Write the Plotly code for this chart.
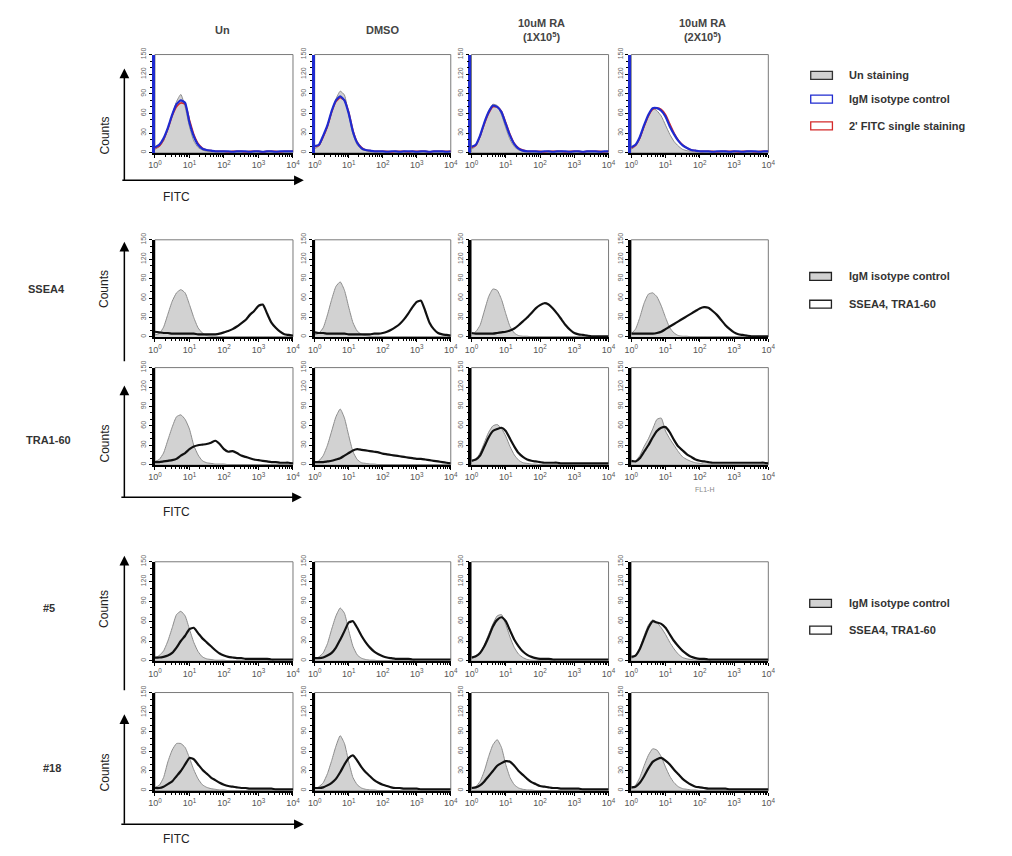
import math
import plotly.graph_objects as go

# ---------------- data ----------------
LOGX = [0.0, 0.125, 0.25, 0.375, 0.5, 0.625, 0.75, 0.875, 1.0, 1.125, 1.25, 1.375, 1.5,
        1.625, 1.75, 1.875, 2.0, 2.125, 2.25, 2.375, 2.5, 2.625, 2.75, 2.875, 3.0, 3.125,
        3.25, 3.375, 3.5, 3.625, 3.75, 3.875, 4.0]

COL_HEADERS = ["Un", "DMSO", "10uM RA<br>(1X10<sup>5</sup>)", "10uM RA<br>(2X10<sup>5</sup>)"]
ROW_LABELS = ["", "SSEA4", "TRA1-60", "#5", "#18"]
YTICKS = [0, 30, 60, 90, 120, 150]
XTICKS = [0, 1, 2, 3, 4]
XTICK_TEXT = ["10<sup>0</sup>", "10<sup>1</sup>", "10<sup>2</sup>", "10<sup>3</sup>", "10<sup>4</sup>"]
LEGEND1 = ["Un staining", "IgM isotype control", "2' FITC single staining"]
LEGEND2 = ["IgM isotype control", "SSEA4, TRA1-60"]

# Row 1: control staining
R1_UNSTAIN = [
    [5, 9, 18, 36, 58, 78, 89, 70, 40, 18, 8, 4, 2, 1, 1, 1, 1, 1, 1, 1, 1, 1, 1, 1, 1, 1, 1, 1, 1, 1, 1, 1, 1],
    [6, 10, 24, 40, 62, 82, 94, 88, 58, 28, 12, 5, 3, 1, 1, 1, 1, 1, 1, 1, 1, 1, 1, 1, 1, 1, 1, 1, 1, 1, 1, 1, 1],
    [5, 10, 24, 45, 64, 74, 72, 58, 38, 20, 9, 4, 2, 1, 1, 1, 1, 1, 1, 1, 1, 1, 1, 1, 1, 1, 1, 1, 1, 1, 1, 1, 1],
    [5, 10, 22, 40, 58, 68, 64, 56, 42, 28, 17, 10, 5, 3, 2, 1, 1, 1, 1, 1, 1, 1, 1, 1, 1, 1, 1, 1, 1, 1, 1, 1, 1],
]
R1_IGM = [
    [8, 12, 22, 38, 58, 74, 80, 76, 46, 25, 12, 6, 4, 3, 2, 2, 2, 2, 1, 2, 2, 2, 1, 2, 2, 1, 2, 2, 1, 2, 2, 2, 2],
    [10, 12, 26, 42, 64, 80, 86, 80, 60, 32, 15, 7, 4, 3, 2, 2, 2, 1, 2, 2, 1, 2, 2, 2, 1, 2, 2, 1, 2, 2, 2, 1, 2],
    [9, 12, 26, 46, 62, 72, 70, 62, 44, 26, 13, 6, 3, 2, 2, 2, 1, 2, 2, 1, 2, 2, 2, 1, 2, 2, 1, 2, 2, 2, 1, 2, 2],
    [8, 12, 24, 42, 58, 68, 68, 64, 55, 40, 28, 18, 11, 7, 4, 3, 2, 2, 2, 1, 2, 2, 2, 1, 2, 2, 1, 2, 2, 2, 1, 2, 2],
]
R1_FITC = [
    [7, 10, 20, 36, 56, 70, 76, 74, 50, 28, 14, 7, 4, 3, 2, 2, 2, 1, 2, 2, 2, 1, 2, 2, 2, 1, 2, 2, 2, 1, 2, 2, 2],
    [9, 11, 24, 40, 62, 78, 84, 80, 62, 34, 16, 8, 4, 3, 2, 2, 2, 2, 1, 2, 2, 2, 1, 2, 2, 2, 2, 1, 2, 2, 2, 2, 2],
    [8, 11, 25, 44, 60, 70, 70, 63, 46, 28, 14, 7, 4, 2, 2, 2, 2, 1, 2, 2, 2, 2, 1, 2, 2, 2, 1, 2, 2, 2, 2, 1, 2],
    [7, 11, 22, 40, 56, 66, 68, 66, 58, 44, 30, 19, 12, 7, 4, 3, 2, 2, 2, 2, 1, 2, 2, 2, 2, 1, 2, 2, 2, 1, 2, 2, 2],
]

# Rows 2-5: IgM isotype control (grey filled) and marker staining (black)
R2_ISO = [
    [3, 5, 15, 35, 55, 68, 73, 68, 50, 30, 14, 6, 2, 1, 1, 0, 0, 0, 0, 0, 0, 0, 0, 0, 0, 0, 0, 0, 0, 0, 0, 0, 0],
    [3, 6, 14, 34, 58, 78, 85, 72, 46, 22, 9, 4, 2, 1, 1, 1, 0, 0, 0, 0, 0, 0, 0, 0, 0, 0, 0, 0, 0, 0, 0, 0, 0],
    [4, 8, 18, 40, 62, 74, 72, 58, 36, 16, 6, 2, 1, 1, 0, 0, 0, 0, 0, 0, 0, 0, 0, 0, 0, 0, 0, 0, 0, 0, 0, 0, 0],
    [5, 12, 30, 52, 66, 68, 62, 48, 30, 14, 6, 2, 1, 1, 0, 0, 0, 0, 0, 0, 0, 0, 0, 0, 0, 0, 0, 0, 0, 0, 0, 0, 0],
]
R2_STAIN = [
    [8, 7, 6, 6, 5, 5, 5, 5, 5, 5, 4, 4, 4, 4, 4, 5, 7, 9, 12, 16, 21, 26, 34, 40, 48, 50, 36, 22, 14, 8, 4, 3, 2],
    [7, 6, 6, 5, 5, 5, 5, 5, 4, 4, 4, 4, 4, 4, 5, 5, 6, 8, 11, 15, 20, 27, 36, 46, 54, 56, 40, 22, 12, 6, 4, 3, 2],
    [6, 5, 5, 5, 5, 5, 6, 7, 8, 10, 13, 18, 24, 30, 37, 44, 49, 52, 50, 44, 36, 27, 18, 11, 6, 4, 3, 2, 1, 1, 1, 1, 1],
    [5, 5, 5, 5, 5, 5, 6, 8, 12, 16, 20, 24, 28, 32, 36, 40, 44, 46, 45, 40, 34, 26, 18, 12, 7, 4, 3, 2, 1, 1, 1, 1, 1],
]
R3_ISO = [
    [5, 8, 18, 38, 58, 74, 77, 70, 55, 30, 15, 6, 3, 2, 1, 1, 1, 0, 0, 0, 0, 0, 0, 0, 0, 0, 0, 0, 0, 0, 0, 0, 0],
    [4, 6, 14, 30, 52, 74, 86, 72, 45, 20, 8, 3, 2, 1, 1, 0, 0, 0, 0, 0, 0, 0, 0, 0, 0, 0, 0, 0, 0, 0, 0, 0, 0],
    [4, 8, 18, 34, 50, 60, 62, 56, 44, 28, 15, 7, 3, 2, 1, 1, 0, 0, 0, 0, 0, 0, 0, 0, 0, 0, 0, 0, 0, 0, 0, 0, 0],
    [3, 6, 14, 28, 40, 55, 70, 72, 52, 40, 30, 20, 12, 8, 5, 3, 2, 1, 1, 0, 0, 0, 0, 0, 0, 0, 0, 0, 0, 0, 0, 0, 0],
]
R3_STAIN = [
    [4, 4, 5, 6, 7, 9, 14, 18, 24, 28, 30, 31, 32, 34, 37, 32, 24, 20, 21, 18, 14, 12, 10, 8, 7, 6, 5, 4, 4, 3, 3, 3, 2],
    [4, 4, 4, 5, 6, 8, 10, 14, 18, 22, 24, 23, 22, 21, 20, 19, 17, 16, 15, 14, 13, 12, 11, 10, 9, 9, 8, 7, 6, 5, 4, 3, 2],
    [6, 8, 14, 28, 42, 52, 55, 57, 52, 40, 28, 18, 12, 8, 6, 5, 4, 3, 3, 3, 3, 2, 2, 2, 2, 2, 2, 2, 2, 2, 2, 2, 2],
    [6, 5, 10, 20, 30, 42, 52, 57, 58, 50, 38, 28, 22, 16, 12, 8, 6, 5, 4, 3, 3, 3, 3, 3, 3, 3, 3, 3, 3, 3, 3, 3, 2],
]
R4_ISO = [
    [4, 8, 15, 30, 50, 70, 75, 68, 48, 28, 14, 6, 3, 2, 1, 1, 1, 0, 0, 0, 0, 0, 0, 0, 0, 0, 0, 0, 0, 0, 0, 0, 0],
    [3, 6, 12, 26, 48, 68, 80, 72, 46, 22, 9, 4, 2, 1, 1, 0, 0, 0, 0, 0, 0, 0, 0, 0, 0, 0, 0, 0, 0, 0, 0, 0, 0],
    [3, 6, 12, 24, 40, 56, 68, 70, 55, 36, 20, 10, 5, 2, 1, 1, 0, 0, 0, 0, 0, 0, 0, 0, 0, 0, 0, 0, 0, 0, 0, 0, 0],
    [3, 8, 20, 38, 54, 62, 58, 50, 40, 28, 18, 10, 5, 3, 2, 1, 1, 0, 0, 0, 0, 0, 0, 0, 0, 0, 0, 0, 0, 0, 0, 0, 0],
]
R4_STAIN = [
    [5, 5, 6, 8, 12, 20, 30, 38, 48, 50, 42, 34, 28, 22, 16, 11, 8, 6, 5, 4, 4, 3, 3, 3, 3, 3, 3, 2, 2, 2, 2, 2, 2],
    [4, 4, 5, 8, 12, 20, 32, 45, 58, 60, 50, 38, 28, 20, 14, 10, 7, 5, 4, 3, 3, 3, 3, 2, 2, 2, 2, 2, 2, 2, 2, 2, 2],
    [5, 7, 12, 22, 36, 52, 62, 66, 60, 46, 32, 22, 14, 9, 6, 4, 3, 3, 3, 2, 2, 2, 2, 2, 2, 2, 2, 2, 2, 2, 2, 2, 2],
    [6, 8, 18, 34, 50, 60, 58, 56, 50, 40, 30, 22, 15, 10, 6, 4, 3, 3, 2, 2, 2, 2, 2, 2, 2, 2, 2, 2, 2, 2, 2, 2, 2],
]
R5_ISO = [
    [5, 8, 20, 44, 62, 72, 72, 66, 50, 32, 18, 9, 5, 3, 2, 1, 1, 0, 0, 0, 0, 0, 0, 0, 0, 0, 0, 0, 0, 0, 0, 0, 0],
    [3, 6, 12, 26, 46, 68, 84, 72, 44, 20, 9, 4, 2, 1, 1, 0, 0, 0, 0, 0, 0, 0, 0, 0, 0, 0, 0, 0, 0, 0, 0, 0, 0],
    [3, 6, 14, 30, 52, 70, 78, 66, 40, 20, 9, 4, 2, 1, 1, 0, 0, 0, 0, 0, 0, 0, 0, 0, 0, 0, 0, 0, 0, 0, 0, 0, 0],
    [3, 8, 20, 38, 54, 64, 62, 52, 36, 22, 12, 6, 3, 2, 1, 1, 0, 0, 0, 0, 0, 0, 0, 0, 0, 0, 0, 0, 0, 0, 0, 0, 0],
]
R5_STAIN = [
    [4, 4, 6, 10, 14, 22, 30, 40, 50, 48, 40, 32, 26, 20, 16, 12, 9, 7, 6, 5, 4, 4, 3, 3, 3, 3, 3, 3, 2, 2, 2, 2, 2],
    [4, 4, 5, 8, 12, 18, 28, 40, 50, 54, 46, 36, 28, 22, 16, 12, 9, 7, 5, 4, 4, 3, 3, 3, 3, 2, 2, 2, 2, 2, 2, 2, 2],
    [4, 5, 8, 14, 22, 30, 38, 42, 45, 44, 38, 30, 24, 18, 13, 10, 7, 6, 5, 4, 4, 3, 3, 3, 3, 3, 2, 2, 2, 2, 2, 2, 2],
    [5, 6, 12, 22, 34, 44, 48, 50, 46, 40, 32, 25, 18, 13, 9, 6, 5, 4, 3, 3, 3, 3, 3, 2, 2, 2, 2, 2, 2, 2, 2, 2, 2],
]

# ---------------- layout geometry (pixels) ----------------
W, H = 1012, 856
COL_X = [(150, 290), (312, 450), (471, 610), (633, 772)]
ROW_Y = [(48, 147), (235, 333), (364, 462), (560, 660), (692, 791)]
FONT = "Liberation Sans, Arial, sans-serif"


def px(x):
    return x / W


def py(y):
    return 1 - y / H


fig = go.Figure()
layout = dict(width=W, height=H, margin=dict(l=0, r=0, t=0, b=0),
              paper_bgcolor="white", plot_bgcolor="white", showlegend=False,
              font=dict(family=FONT, color="#333"))
shapes = []
annotations = []


def label(x, y, text, size=11, color="#333", xanchor="center", angle=0):
    annotations.append(dict(x=px(x), y=py(y), xref="paper", yref="paper", text=text,
                            xanchor=xanchor, yanchor="middle", textangle=angle,
                            showarrow=False, font=dict(size=size, color=color, family=FONT)))


MINOR_X = [d + math.log10(k) for d in range(4) for k in range(2, 10)]

GREY_FILL = "#d2d2d2"
GREY_LINE = "#8c8c8c"
BLUE = "#1f2bd0"
RED = "#d42a2a"

ISO_ROWS = [R1_UNSTAIN, R2_ISO, R3_ISO, R4_ISO, R5_ISO]
STAIN_ROWS = [None, R2_STAIN, R3_STAIN, R4_STAIN, R5_STAIN]

for r in range(5):
    for c in range(4):
        n = r * 4 + c + 1
        sfx = "" if n == 1 else str(n)
        xa, ya = "x" + sfx, "y" + sfx
        x0, x1 = COL_X[c]
        y0, y1 = ROW_Y[r]
        layout["xaxis" + sfx] = dict(
            domain=[px(x0), px(x1)], anchor=ya, range=[0, 4], fixedrange=True,
            showline=True, linecolor="black", linewidth=2, mirror=False,
            ticks="outside", ticklen=3, tickwidth=1, tickcolor="black",
            tickvals=XTICKS, ticktext=XTICK_TEXT, showgrid=False, zeroline=False,
            tickfont=dict(size=9, color="#555", family=FONT),
            minor=dict(tickmode="array", tickvals=MINOR_X, ticks="outside",
                       ticklen=2, tickcolor="black", showgrid=False),
        )
        layout["yaxis" + sfx] = dict(
            domain=[py(y1), py(y0)], anchor=xa, range=[0, 150], fixedrange=True,
            showline=True, linecolor=(BLUE if r == 0 else "black"), linewidth=2.5,
            ticks="outside", ticklen=3, tickwidth=1, tickcolor="black",
            tickvals=YTICKS, tickangle=-90, showgrid=False, zeroline=False,
            tickfont=dict(size=7, color="#666", family=FONT),
            minor=dict(dtick=10, ticks="outside", ticklen=2, tickcolor="black", showgrid=False),
        )
        # panel frame (thin grey top/right)
        shapes.append(dict(type="rect", xref=xa + " domain", yref=ya + " domain",
                           x0=0, x1=1, y0=0, y1=1, layer="below",
                           line=dict(color="#7a7a7a", width=1)))
        # isotype / unstained filled histogram
        fig.add_trace(go.Scatter(
            x=LOGX, y=ISO_ROWS[r][c], xaxis=xa, yaxis=ya, mode="lines",
            line=dict(color=GREY_LINE, width=1, shape="spline", smoothing=0.5),
            fill="tozeroy", fillcolor=GREY_FILL, hoverinfo="skip"))
        if r == 0:
            fig.add_trace(go.Scatter(
                x=LOGX, y=R1_FITC[c], xaxis=xa, yaxis=ya, mode="lines",
                line=dict(color=RED, width=1.6, shape="spline", smoothing=0.5), hoverinfo="skip"))
            fig.add_trace(go.Scatter(
                x=LOGX, y=R1_IGM[c], xaxis=xa, yaxis=ya, mode="lines",
                line=dict(color=BLUE, width=2.2, shape="spline", smoothing=0.5), hoverinfo="skip"))
        else:
            fig.add_trace(go.Scatter(
                x=LOGX, y=STAIN_ROWS[r][c], xaxis=xa, yaxis=ya, mode="lines",
                line=dict(color="#111", width=2.2, shape="spline", smoothing=0.5), hoverinfo="skip"))

# column headers
HEADER_X = [219, 381, 542, 705]
for c, txt in enumerate(COL_HEADERS):
    label(HEADER_X[c], 23, "<b>" + txt + "</b>", size=11, color="#444")

# row labels
ROW_LABEL_POS = [None, (40, 285), (42, 437), (43, 607), (46, 768)]
for r in range(1, 5):
    x, y = ROW_LABEL_POS[r]
    label(x, y, "<b>" + ROW_LABELS[r] + "</b>", size=11, color="#333")

# Counts labels
for yc in [130, 285, 441, 608, 773]:
    label(99, yc, "Counts", size=12, color="#222", angle=-90)
# FITC labels
for yc in [192, 510, 840]:
    label(172, yc, "FITC", size=12, color="#222")


def arrow(tip, tail):
    annotations.append(dict(x=px(tip[0]), y=py(tip[1]), xref="paper", yref="paper",
                            ax=tail[0] - tip[0], ay=tail[1] - tip[1], axref="pixel", ayref="pixel",
                            text="", showarrow=True, arrowhead=2, arrowsize=1.3,
                            arrowwidth=1.5, arrowcolor="black", standoff=0, startstandoff=0))


# vertical Count arrows
arrow((119, 62), (119, 175))
arrow((119, 237), (119, 358))
arrow((119, 382), (119, 495))
arrow((119, 554), (119, 690))
arrow((119, 714), (119, 825))
# horizontal FITC arrows
arrow((301, 175), (118, 175))
arrow((299, 495), (117, 495))
arrow((301, 825), (117, 825))

# legends
LEG1_Y = [69, 93, 120]
LEG1_STYLE = [(GREY_FILL, "#333"), ("white", BLUE), ("white", RED)]
for i, txt in enumerate(LEGEND1):
    fillc, linec = LEG1_STYLE[i]
    yc = LEG1_Y[i]
    shapes.append(dict(type="rect", xref="paper", yref="paper",
                       x0=px(815), x1=px(837), y0=py(yc + 4), y1=py(yc - 4),
                       fillcolor=fillc, line=dict(color=linec, width=1.3)))
    label(852, yc, "<b>" + txt + "</b>", size=11, color="#333", xanchor="left")

for ys in [(272, 300), (602, 629)]:
    for i, txt in enumerate(LEGEND2):
        yc = ys[i]
        fillc = GREY_FILL if i == 0 else "white"
        shapes.append(dict(type="rect", xref="paper", yref="paper",
                           x0=px(814), x1=px(836), y0=py(yc + 4), y1=py(yc - 4),
                           fillcolor=fillc, line=dict(color="#222", width=1.3)))
        label(852, yc, "<b>" + txt + "</b>", size=11, color="#333", xanchor="left")

# small FL1-H label
label(707, 487, "FL1-H", size=7, color="#888")

layout["shapes"] = shapes
layout["annotations"] = annotations
fig.update_layout(**layout)
fig.write_html("out.html")
